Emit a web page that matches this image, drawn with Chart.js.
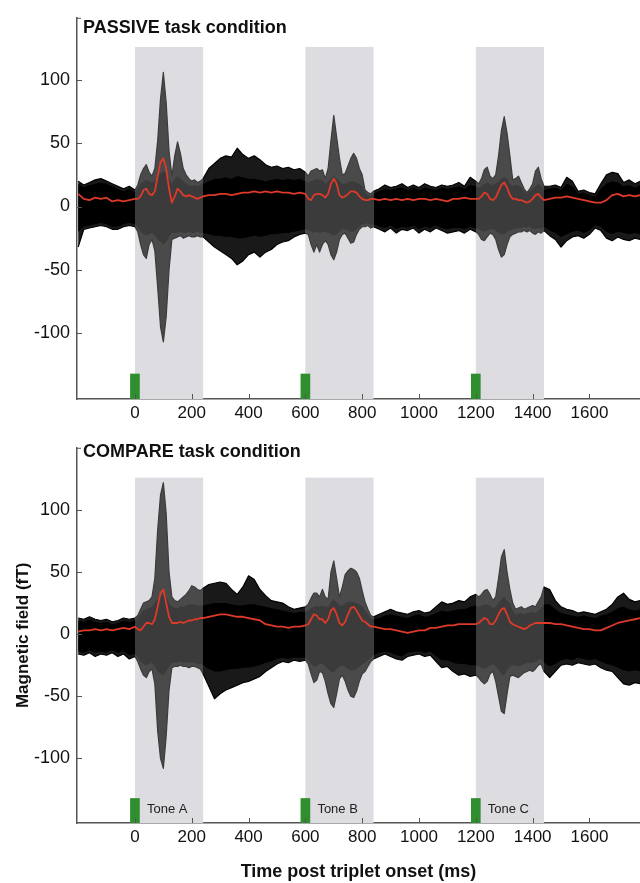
<!DOCTYPE html>
<html>
<head>
<meta charset="utf-8">
<script src="https://cdn.jsdelivr.net/npm/chart.js@4.4.1/dist/chart.umd.min.js"></script>
<style>
  html, body { margin: 0; padding: 0; background: #fff; }
  #wrap { position: relative; width: 640px; height: 883px; overflow: hidden; }
  canvas { position: absolute; left: 0; }
</style>
</head>
<body>
<div id="wrap">
  <canvas id="passiveChart" width="640" height="430" style="top:0"></canvas>
  <canvas id="compareChart" width="640" height="453" style="top:430px"></canvas>
</div>
<script>
// sample times (ms), finer inside the tone windows
const timeMs = [-200,-180,-160,-140,-120,-100,-80,-60,-40,-20,0,
  10,20,30,40,50,60,70,80,90,100,110,120,130,140,150,160,170,180,190,200,210,220,230,240,
  260,280,300,320,340,360,380,400,420,440,460,480,500,520,540,560,580,600,
  610,620,630,640,650,660,670,680,690,700,710,720,730,740,750,760,770,780,790,800,810,820,830,840,
  860,880,900,920,940,960,980,1000,1020,1040,1060,1080,1100,1120,1140,1160,1180,1200,
  1210,1220,1230,1240,1250,1260,1270,1280,1290,1300,1310,1320,1330,1340,1350,1360,1370,1380,1390,1400,1410,1420,1430,1440,
  1460,1480,1500,1520,1540,1560,1580,1600,1620,1640,1660,1680,1700,1720,1740,1760,1780];

// PASSIVE: sensor envelope (max / min), dense core, mean (fT)
const passiveMax = [20,17,19,21,22,20,18,16,14,16,13,
  17,25,30,33,27,24,30,52,85,106,82,44,24,40,51,42,30,25,22,20,21,19,20,22,
  30,34,38,40,39,46,41,38,40,37,33,31,32,30,31,29,30,27,
  24,28,29,30,28,29,22,30,52,72,55,38,25,26,32,38,42,38,30,25,13,11,10,12,
  14,17,15,16,18,15,17,15,18,16,15,17,16,17,19,16,23,20,
  18,22,29,31,24,22,25,40,60,71,58,40,21,22,24,19,14,11,14,18,28,31,22,16,
  16,17,15,23,20,12,13,11,10,18,25,27,26,19,21,18,20];
const passiveMin = [-32,-18,-17,-16,-15,-16,-18,-18,-16,-15,-16,
  -20,-30,-38,-41,-30,-26,-35,-64,-95,-107,-87,-50,-26,-25,-24,-23,-25,-24,-23,-24,-24,-23,-24,-24,
  -28,-32,-35,-38,-41,-46,-43,-38,-36,-40,-36,-34,-30,-28,-27,-24,-22,-21,
  -22,-30,-36,-30,-36,-30,-27,-30,-38,-42,-36,-26,-22,-21,-25,-29,-28,-22,-18,-16,-16,-15,-17,-16,
  -18,-20,-17,-21,-18,-19,-17,-21,-18,-20,-17,-19,-21,-20,-19,-21,-18,-20,
  -22,-26,-27,-24,-21,-22,-26,-34,-40,-38,-30,-24,-22,-21,-20,-20,-19,-20,-19,-21,-22,-20,-21,-19,
  -23,-26,-32,-27,-24,-23,-25,-22,-17,-19,-25,-27,-24,-26,-27,-25,-26];
const passiveCoreHi = [18,15,17,18,19,18,16,14,12,14,11,
  14,18,20,21,20,19,20,24,26,28,26,22,18,22,24,22,20,18,17,16,17,16,17,18,
  20,22,22,23,22,24,23,22,22,21,20,21,22,21,22,21,22,20,
  19,20,21,22,21,21,18,20,22,24,22,20,18,18,19,20,20,19,18,16,11,9,8,10,
  12,14,13,14,15,13,15,13,15,14,13,15,14,15,16,14,17,16,
  15,16,18,19,18,17,18,20,22,23,22,18,16,17,17,15,12,10,12,14,16,18,16,13,
  14,15,13,18,16,10,11,9,8,14,18,20,19,16,17,15,17];
const passiveCoreLo = [-20,-16,-15,-14,-13,-14,-16,-16,-14,-13,-14,
  -17,-20,-22,-23,-22,-21,-23,-26,-28,-30,-28,-24,-21,-21,-21,-20,-21,-21,-20,-21,-21,-20,-21,-21,
  -22,-23,-23,-24,-24,-25,-25,-24,-23,-24,-23,-22,-22,-21,-21,-20,-19,-18,
  -19,-20,-21,-20,-21,-20,-20,-21,-22,-23,-22,-20,-18,-18,-19,-20,-20,-18,-16,-14,-14,-13,-15,-14,
  -16,-17,-15,-18,-16,-17,-15,-18,-16,-17,-15,-17,-18,-17,-17,-18,-16,-17,
  -18,-19,-20,-19,-18,-18,-19,-21,-22,-22,-20,-19,-18,-18,-17,-17,-16,-17,-16,-18,-18,-17,-18,-16,
  -19,-21,-24,-22,-20,-19,-21,-19,-15,-16,-20,-22,-20,-21,-22,-21,-22];
const passiveMean = [10,6,5,7,6,7,4,5,4,5,6,
  6,8,13,14,10,9,12,24,35,38,30,14,3,8,14,12,9,8,9,8,7,6,7,8,
  9,9,10,10,9,10,11,11,12,11,12,11,12,11,11,10,11,10,
  6,5,9,10,10,9,7,10,18,22,18,9,7,8,10,12,12,11,8,6,5,5,6,6,
  5,6,5,6,5,6,5,6,6,5,6,5,4,6,6,7,6,6,
  6,8,11,10,6,5,7,12,17,19,15,9,6,6,5,5,4,3,4,6,9,10,7,5,
  6,7,7,8,7,6,5,4,3,3,5,9,10,8,9,8,9];

// COMPARE
const compareMax = [13,12,14,12,11,12,10,11,13,12,13,
  15,20,25,26,27,30,45,84,112,122,97,50,30,27,26,28,30,32,35,39,38,36,35,37,
  40,41,42,41,36,32,38,47,44,36,31,27,26,25,22,20,21,22,
  24,29,33,33,30,36,30,28,50,59,45,30,38,48,51,53,52,50,45,35,26,20,15,14,
  16,18,20,18,17,16,18,19,17,18,22,26,24,25,27,26,30,32,
  30,32,35,36,32,27,30,45,62,68,50,36,25,20,21,22,20,21,22,23,22,26,30,38,
  36,27,22,20,19,17,18,17,16,18,20,24,30,33,28,26,27];
const compareMin = [-16,-17,-15,-18,-16,-17,-15,-18,-16,-20,-18,
  -22,-28,-33,-35,-30,-28,-40,-78,-100,-108,-82,-45,-27,-26,-26,-25,-26,-26,-27,-26,-26,-27,-28,-32,
  -42,-52,-48,-45,-43,-41,-39,-38,-36,-34,-30,-27,-24,-22,-23,-21,-22,-21,
  -24,-32,-39,-37,-30,-31,-38,-48,-56,-59,-48,-36,-33,-38,-45,-50,-51,-46,-38,-32,-30,-26,-22,-20,
  -18,-16,-18,-20,-21,-18,-17,-16,-18,-17,-22,-27,-26,-30,-33,-32,-34,-33,
  -35,-38,-40,-38,-32,-30,-38,-50,-62,-64,-48,-34,-33,-34,-35,-33,-31,-30,-29,-30,-28,-25,-24,-30,
  -35,-30,-25,-24,-25,-23,-24,-25,-24,-27,-29,-30,-35,-40,-41,-39,-40];
const compareCoreHi = [11,10,12,10,9,10,8,9,11,10,11,
  13,16,19,20,21,22,25,28,30,32,30,25,22,21,21,22,22,23,24,24,24,23,23,23,
  24,25,25,25,24,23,23,24,24,23,22,21,20,19,18,17,18,18,
  19,21,22,23,22,23,22,22,26,28,26,23,23,25,26,26,26,25,24,22,19,16,13,12,
  13,15,16,15,14,13,15,16,14,15,17,19,18,19,20,20,22,23,
  22,23,24,24,23,21,22,25,28,30,27,24,19,16,17,17,16,17,17,18,17,19,21,24,
  24,20,17,16,15,14,15,14,13,15,16,18,21,22,20,19,20];
const compareCoreLo = [-14,-15,-13,-15,-14,-15,-13,-15,-14,-17,-16,
  -19,-22,-24,-25,-24,-23,-26,-30,-32,-33,-30,-26,-23,-23,-23,-22,-23,-23,-23,-23,-23,-24,-24,-25,
  -28,-30,-30,-29,-28,-28,-27,-27,-26,-25,-23,-22,-20,-19,-20,-19,-19,-19,
  -21,-24,-26,-26,-24,-24,-26,-28,-30,-31,-28,-26,-25,-26,-28,-29,-29,-28,-26,-24,-23,-21,-19,-17,
  -15,-14,-15,-17,-18,-15,-14,-14,-15,-14,-18,-21,-21,-23,-24,-24,-25,-25,
  -26,-27,-28,-27,-25,-24,-26,-29,-32,-33,-29,-26,-25,-25,-26,-25,-24,-23,-23,-23,-22,-21,-20,-23,
  -26,-24,-21,-20,-21,-19,-20,-21,-20,-22,-24,-25,-27,-29,-30,-29,-30];
const compareMean = [2,3,3,4,3,4,3,4,5,4,6,
  4,3,6,9,9,8,12,22,33,36,25,14,9,9,9,10,9,10,11,11,12,12,13,13,
  14,15,16,16,15,14,14,13,12,11,8,7,6,6,5,6,6,7,
  8,12,16,15,12,12,9,12,19,21,16,9,7,10,16,21,22,19,15,11,10,8,6,6,
  5,4,4,3,2,1,2,3,3,5,5,6,7,7,8,8,8,8,
  9,11,13,12,8,8,11,16,20,21,16,10,8,7,6,5,4,5,7,8,9,9,9,9,
  9,8,8,7,6,5,4,4,3,3,5,7,9,10,11,12,13];

const xTicks = [0, 200, 400, 600, 800, 1000, 1200, 1400, 1600];
const yTicks = [-100, -50, 0, 50, 100];
const toneWindows = [[0, 240], [600, 840], [1200, 1440]];
const toneOnsets = [0, 600, 1200];
const toneNames = ["Tone A", "Tone B", "Tone C"];

const FONT = "'Liberation Sans', Arial, sans-serif";
const WINDOW_GREY = "#dcdce1";
const MEAN_RED = "#dd3a2a";
const TONE_GREEN = "#2f8f2f";

const toPoints = (arr) => arr.map((v, i) => ({ x: timeMs[i], y: v }));
const clamp01 = (v) => Math.min(1, Math.max(0, v));

// black outside the tone windows, dark grey inside
function traceColor(chart, inside, outside) {
  const { ctx, chartArea, scales } = chart;
  if (!chartArea || !scales.x) return outside;
  const w = chartArea.right - chartArea.left;
  const g = ctx.createLinearGradient(chartArea.left, 0, chartArea.right, 0);
  g.addColorStop(0, outside);
  toneWindows.forEach(([a, b]) => {
    const fa = clamp01((scales.x.getPixelForValue(a) - chartArea.left) / w);
    const fb = clamp01((scales.x.getPixelForValue(b) - chartArea.left) / w);
    g.addColorStop(fa, outside);
    g.addColorStop(fa, inside);
    g.addColorStop(fb, inside);
    g.addColorStop(fb, outside);
  });
  g.addColorStop(1, outside);
  return g;
}

const megPlugin = {
  id: "meg",
  beforeDatasetsDraw(chart) {
    const { ctx, chartArea, scales } = chart;
    ctx.save();
    ctx.fillStyle = WINDOW_GREY;
    const top = scales.y.getPixelForValue(126);
    toneWindows.forEach(([a, b]) => {
      const x0 = scales.x.getPixelForValue(a);
      const x1 = scales.x.getPixelForValue(b);
      ctx.fillRect(x0, top, x1 - x0, chartArea.bottom - top);
    });
    ctx.restore();
  },
  afterDatasetsDraw(chart, args, opts) {
    const { ctx, chartArea, scales } = chart;
    ctx.save();
    ctx.fillStyle = TONE_GREEN;
    const barTop = scales.y.getPixelForValue(-132);
    toneOnsets.forEach((t, i) => {
      const x0 = scales.x.getPixelForValue(t - 17);
      const x1 = scales.x.getPixelForValue(t + 17);
      ctx.fillRect(x0, barTop, x1 - x0, chartArea.bottom - barTop);
      if (opts.toneLabels) {
        ctx.fillStyle = "#222";
        ctx.font = "13px " + FONT;
        ctx.textBaseline = "middle";
        ctx.fillText(toneNames[i], scales.x.getPixelForValue(t) + 12, scales.y.getPixelForValue(-141));
        ctx.fillStyle = TONE_GREEN;
      }
    });
    ctx.restore();
  },
  afterDraw(chart, args, opts) {
    const { ctx, chartArea, scales } = chart;
    ctx.save();
    // inward tick marks
    ctx.strokeStyle = "#555";
    ctx.lineWidth = 1;
    ctx.beginPath();
    xTicks.forEach((v) => {
      const px = Math.round(scales.x.getPixelForValue(v)) + 0.5;
      ctx.moveTo(px, chartArea.bottom);
      ctx.lineTo(px, chartArea.bottom - 5);
    });
    yTicks.forEach((v) => {
      const py = Math.round(scales.y.getPixelForValue(v)) + 0.5;
      ctx.moveTo(chartArea.left, py);
      ctx.lineTo(chartArea.left + 5, py);
    });
    ctx.moveTo(chartArea.left, chartArea.top + 0.5);
    ctx.lineTo(chartArea.left + 4, chartArea.top + 0.5);
    ctx.stroke();
    // panel title
    ctx.fillStyle = "#111";
    ctx.font = "bold 18px " + FONT;
    ctx.textBaseline = "middle";
    ctx.fillText(opts.title, chartArea.left + 6, opts.titleY);
    ctx.restore();
  },
};

function makePanel(id, cfg) {
  const inGrey = "#3b3b3b";
  const datasets = [
    {
      label: "mean",
      data: toPoints(cfg.mean),
      borderColor: MEAN_RED,
      borderWidth: 1.8,
      fill: false,
    },
    {
      label: "core high",
      data: toPoints(cfg.coreHi),
      borderWidth: 0,
      borderColor: (c) => traceColor(c.chart, inGrey, "#000"),
      backgroundColor: (c) => traceColor(c.chart, inGrey, "#000"),
      fill: "+1",
    },
    {
      label: "core low",
      data: toPoints(cfg.coreLo),
      borderWidth: 0,
      fill: false,
    },
    {
      label: "max",
      data: toPoints(cfg.max),
      borderWidth: 1.2,
      borderColor: (c) => traceColor(c.chart, inGrey, "#000"),
      backgroundColor: (c) => traceColor(c.chart, "rgba(58,58,58,0.9)", "rgba(0,0,0,0.9)"),
      fill: "+1",
    },
    {
      label: "min",
      data: toPoints(cfg.min),
      borderWidth: 1.2,
      borderColor: (c) => traceColor(c.chart, inGrey, "#000"),
      fill: false,
    },
  ];
  datasets.forEach((d) => {
    d.pointRadius = 0;
    d.tension = 0;
    d.borderJoinStyle = "round";
  });

  return new Chart(document.getElementById(id), {
    type: "line",
    data: { datasets },
    options: {
      responsive: false,
      animation: false,
      devicePixelRatio: 1,
      layout: { padding: { left: 13, right: 0, top: cfg.padTop, bottom: 0 } },
      plugins: {
        legend: { display: false },
        tooltip: { enabled: false },
        meg: { title: cfg.title, titleY: cfg.titleY, toneLabels: cfg.toneLabels },
      },
      scales: {
        x: {
          type: "linear",
          min: -204,
          max: 1778,
          afterBuildTicks: (s) => { s.ticks = xTicks.map((v) => ({ value: v })); },
          afterFit: (s) => { s.height = cfg.xHeight; },
          ticks: {
            color: "#111", font: { family: FONT, size: 17 }, padding: 4,
            maxRotation: 0, autoSkip: false, callback: (v) => String(v),
          },
          grid: { display: false, drawTicks: false },
          border: { display: true, color: "#555", width: 1.5 },
          title: {
            display: !!cfg.xTitle,
            text: cfg.xTitle || "",
            color: "#111",
            font: { family: FONT, size: 18, weight: "bold" },
            padding: 0,
          },
        },
        y: {
          min: -152,
          max: cfg.yMax,
          afterBuildTicks: (s) => { s.ticks = yTicks.map((v) => ({ value: v })); },
          afterFit: (s) => { s.width = 64; },
          ticks: { color: "#111", font: { family: FONT, size: 18 }, padding: 7, callback: (v) => String(v) },
          grid: { display: false, drawTicks: false },
          border: { display: true, color: "#555", width: 1.5 },
          title: {
            display: !!cfg.yTitle,
            text: cfg.yTitle || "",
            color: "#111",
            font: { family: FONT, size: 17, weight: "bold" },
            padding: 0,
          },
        },
      },
    },
    plugins: [megPlugin],
  });
}

makePanel("passiveChart", {
  mean: passiveMean, coreHi: passiveCoreHi, coreLo: passiveCoreLo,
  max: passiveMax, min: passiveMin,
  title: "PASSIVE task condition", titleY: 28,
  padTop: 14, xHeight: 31, yMax: 149, toneLabels: false,
});

makePanel("compareChart", {
  mean: compareMean, coreHi: compareCoreHi, coreLo: compareCoreLo,
  max: compareMax, min: compareMin,
  title: "COMPARE task condition", titleY: 22,
  padTop: 7, xHeight: 60, yMax: 150, toneLabels: true,
  xTitle: "Time post triplet onset (ms)", yTitle: "Magnetic field (fT)",
});
</script>
</body>
</html>
